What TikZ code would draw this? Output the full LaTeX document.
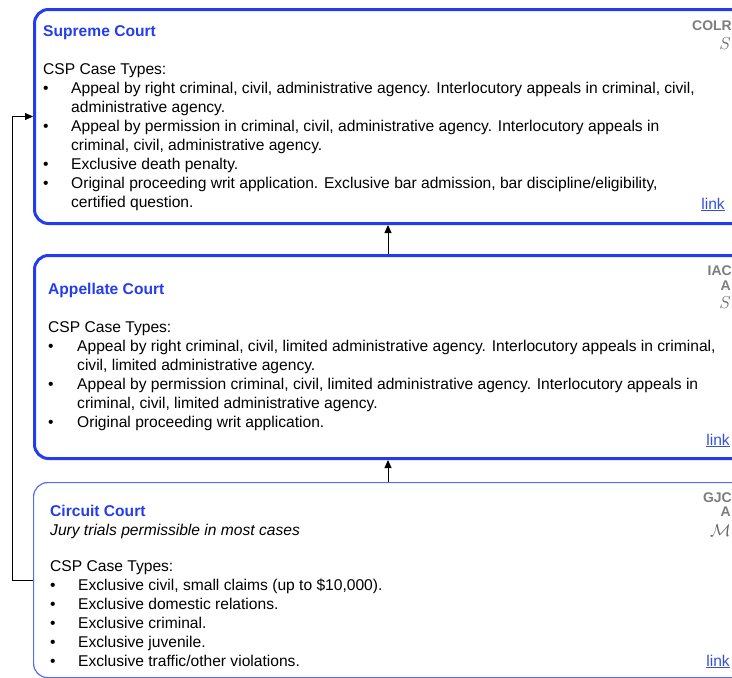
\documentclass[tikz,border=0pt]{standalone}
\usepackage{fontspec}
\setmainfont{Liberation Sans}
\usetikzlibrary{arrows.meta}

\definecolor{courtblue}{RGB}{36,60,240}
\definecolor{lightblue}{RGB}{80,110,245}
\definecolor{tiergray}{RGB}{125,125,125}
\definecolor{linkblue}{RGB}{50,80,220}

\tikzset{
  courtbox/.style={draw=courtblue, line width=3pt, rounded corners=14pt,
    anchor=north west, inner sep=0pt},
  lowerbox/.style={courtbox, draw=lightblue, line width=1.2pt},
  title/.style={anchor=base west, inner sep=0pt, text=courtblue,
    font=\bfseries\fontsize{15.6}{19}\selectfont},
  body/.style={anchor=base west, inner sep=0pt, font=\fontsize{15.6}{19}\selectfont},
  linktext/.style={anchor=base east, inner sep=0pt, text=linkblue,
    font=\fontsize{15.6}{19}\selectfont},
  tier/.style={anchor=base east, inner sep=0pt, text=tiergray,
    font=\bfseries\fontsize{14}{16}\selectfont},
  tiersign/.style={tier, text=tiergray!80!black, font=\fontsize{17}{17}\selectfont},
  uparrow/.style={-{Triangle[length=8pt,width=7pt]}, line width=0.8pt},
}

\begin{document}
\begin{tikzpicture}[x=1pt,y=-1pt]
    \useasboundingbox (0,0) rectangle (732,678);
    \clip (0,0) rectangle (732,678);

    % Supreme Court
    \node[courtbox, minimum width=740pt, minimum height=214pt] (supreme) at (33,8) {};
    \node[title] (suptitle) at (43,36) {Supreme Court};
    \node[body] (suplist) at (43,74) {\begin{tabular}[t]{@{}p{28pt}@{}l@{}}
        \multicolumn{2}{@{}l@{}}{CSP Case Types:}\\
        \textbullet & Appeal by right criminal, civil, administrative agency. Interlocutory appeals in criminal, civil,\\
        & administrative agency.\\
        \textbullet & Appeal by permission in criminal, civil, administrative agency. Interlocutory appeals in\\
        & criminal, civil, administrative agency.\\
        \textbullet & Exclusive death penalty.\\
        \textbullet & Original proceeding writ application. Exclusive bar admission, bar discipline/eligibility,\\
        & certified question.
      \end{tabular}};
    \node[linktext] (suplink) at (725,209) {\underline{link}};
    \node[tier] (supcode) at (732,30) {COLR};
    \node[tiersign] (suptype) at (731,49) {$S$};

    % Appellate Court
    \node[courtbox, minimum width=740pt, minimum height=203pt] (appellate) at (33,254) {};
    \node[title] (apptitle) at (48,294) {Appellate Court};
    \node[body] (applist) at (48,332) {\begin{tabular}[t]{@{}p{29pt}@{}l@{}}
        \multicolumn{2}{@{}l@{}}{CSP Case Types:}\\
        \textbullet & Appeal by right criminal, civil, limited administrative agency. Interlocutory appeals in criminal,\\
        & civil, limited administrative agency.\\
        \textbullet & Appeal by permission criminal, civil, limited administrative agency. Interlocutory appeals in\\
        & criminal, civil, limited administrative agency.\\
        \textbullet & Original proceeding writ application.
      \end{tabular}};
    \node[linktext] (applink) at (730,445) {\underline{link}};
    \node[tier] (appcode) at (732,275) {IAC};
    \node[tier] (appkind) at (731,290) {A};
    \node[tiersign] (apptype) at (731,308) {$S$};

    % Circuit Court
    \node[lowerbox, minimum width=740pt, minimum height=195pt] (circuit) at (33,482) {};
    \node[title] (cirtitle) at (50,516) {Circuit Court};
    \node[body, font=\itshape\fontsize{15.6}{19}\selectfont] (cirnote) at (50,535)
      {Jury trials permissible in most cases};
    \node[body] (cirlist) at (50,571) {\begin{tabular}[t]{@{}p{28pt}@{}l@{}}
        \multicolumn{2}{@{}l@{}}{CSP Case Types:}\\
        \textbullet & Exclusive civil, small claims (up to \$10,000).\\
        \textbullet & Exclusive domestic relations.\\
        \textbullet & Exclusive criminal.\\
        \textbullet & Exclusive juvenile.\\
        \textbullet & Exclusive traffic/other violations.
      \end{tabular}};
    \node[linktext] (cirlink) at (730,666) {\underline{link}};
    \node[tier] (circode) at (732,502) {GJC};
    \node[tier] (cirkind) at (731,516) {A};
    \node[tiersign] (cirtype) at (731,536) {$\mathcal{M}$};

    % appeals
    \coordinate (mid) at (388,0);
    \draw[uparrow] (appellate.north -| mid) -- (supreme.south -| mid);
    \draw[uparrow] (circuit.north -| mid) -- (appellate.south -| mid);
    \draw[uparrow] (circuit.west) -- ++(-21,0) |- (supreme.west);
\end{tikzpicture}
\end{document}
